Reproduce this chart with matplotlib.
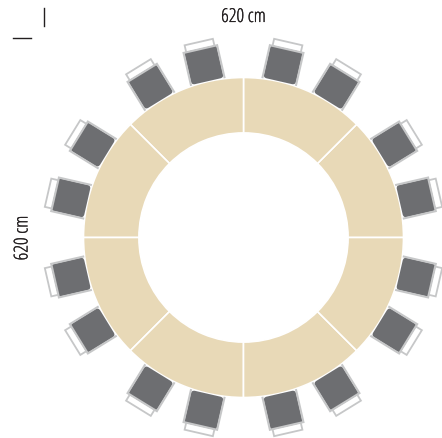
import matplotlib
matplotlib.use('agg')
import matplotlib.pyplot as plt
import matplotlib.patheffects as pe
from matplotlib.patches import Wedge, FancyBboxPatch, Rectangle
from matplotlib.transforms import Affine2D
import numpy as np

plt.rcParams['font.family'] = ['Open Sans', 'DejaVu Sans']

# table segments, degrees counted anticlockwise from east
segment_starts = [0, 45, 90, 135, 180, 225, 270, 315]
segment_span = 45
# chair positions, degrees clockwise from north
chair_angles = [12.9, 31.6, 58.4, 77.1, 102.9, 121.6, 148.4, 167.1,
                192.9, 211.6, 238.4, 257.1, 282.9, 301.6, 328.4, 347.1]
width_label = '620 cm'
depth_label = '620 cm'

W, H = 442, 438
CX, CY = 243.5, H - 237.5
R_OUT, R_IN, R_CHAIR = 160, 104.6, 176.5

TABLE = '#e8d9b7'
SEAT = '#6d6e71'
FRAME = '#c6c7c8'
INK = '#231f20'

fig = plt.figure(figsize=(W / 100, H / 100), dpi=100)
ax = fig.add_axes([0, 0, 1, 1])
ax.set_xlim(0, W)
ax.set_ylim(0, H)
ax.axis('off')

for start in segment_starts:
    ax.add_patch(Wedge((CX, CY), R_OUT, start, start + segment_span,
                       width=R_OUT - R_IN, facecolor=TABLE,
                       edgecolor='white', linewidth=1.2))


def draw_chair(angle):
    # local frame: y points outward from the table
    rad = np.radians(angle)
    px = CX + R_CHAIR * np.sin(rad)
    py = CY + R_CHAIR * np.cos(rad)
    tr = Affine2D().rotate_deg(-angle).translate(px, py) + ax.transData
    # backrest
    ax.add_patch(Rectangle((-14.5, 15), 29, 9, facecolor='white',
                           edgecolor=FRAME, linewidth=1.3, transform=tr))
    # seat
    ax.add_patch(FancyBboxPatch((-13.5, -13.2), 27, 27.5,
                                boxstyle='round,pad=3,rounding_size=3.5',
                                facecolor=SEAT, edgecolor='none', transform=tr))
    # frame rails on the back and both sides
    ax.plot([-17.2, -17.2, 17.2, 17.2], [-17, 16.8, 16.8, -17], color=FRAME,
            linewidth=1.5, solid_joinstyle='miter', solid_capstyle='butt',
            transform=tr)


for a in chair_angles:
    draw_chair(a)

# dimensions, the condensed face is light so thicken it a bit
stroke = [pe.withStroke(linewidth=0.15, foreground=INK)]
ax.text(243.5, H - 17, width_label, ha='center', va='center', fontsize=13.8,
        color=INK, fontstretch='condensed', path_effects=stroke)
ax.text(22.5, H - 238, depth_label, ha='center', va='center', rotation=90,
        fontsize=13.8, color=INK, fontstretch='condensed', path_effects=stroke)

# crop marks
ax.plot([43.5, 43.5], [H - 8, H - 26], color=INK, linewidth=1)
ax.plot([13, 31], [H - 38, H - 38], color=INK, linewidth=1)

fig.savefig('out.png', dpi=100)
